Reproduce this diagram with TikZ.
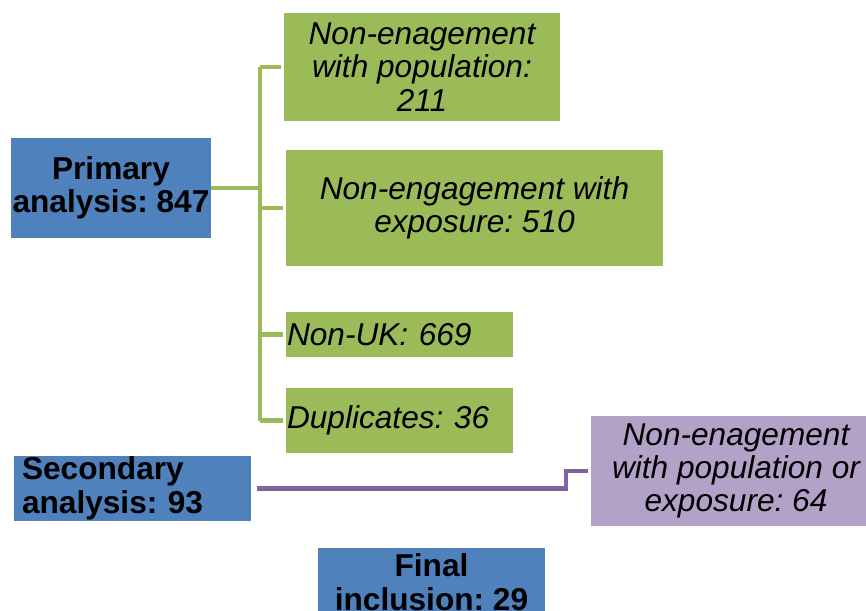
\documentclass[tikz,border=0pt]{standalone}
\usepackage{fontspec}
\setmainfont{Liberation Sans}
\usepackage{xcolor}
\usetikzlibrary{positioning, calc}
\frenchspacing
\definecolor{BoxBlue}{HTML}{4F81BD}
\definecolor{BoxGreen}{HTML}{9BBB59}
\definecolor{BoxLilac}{HTML}{B3A2C7}
\definecolor{LinePurple}{HTML}{8064A2}

\begin{document}
\begin{tikzpicture}[
    x=0.02cm, y=-0.02cm,
    box/.style={rectangle, inner sep=0pt, align=center, font=\fontsize{18pt}{19pt}\selectfont},
    stage/.style={box, fill=BoxBlue, font=\fontsize{18pt}{19pt}\selectfont\bfseries},
    excl/.style={box, fill=BoxGreen, font=\fontsize{18pt}{19pt}\selectfont\itshape},
    excl2/.style={box, fill=BoxLilac, font=\fontsize{18pt}{19pt}\selectfont\itshape},
    gline/.style={draw=BoxGreen, line width=2.4pt},
    pline/.style={draw=LinePurple, line width=2.8pt}
]
\useasboundingbox (0,0) rectangle (866,610);

% Stages
\node[stage, minimum width=4cm, minimum height=2cm] (prim) at (111,188) {Primary\\analysis: 847};
\node[stage, minimum width=4.74cm, minimum height=1.3cm, align=left, text width=4.42cm] (sec) at (132.5,488.5) {Secondary\\analysis: 93};
\node[stage, minimum width=4.54cm, minimum height=1.36cm] (final) at (431.5,582) {Final\\inclusion: 29};

% Exclusions at primary analysis
\node[excl, minimum width=5.52cm, minimum height=2.16cm] (g1) at (422,67) {Non-enagement\\with population:\\211};
\node[excl, minimum width=7.54cm, minimum height=2.32cm] (g2) at (474.5,208) {Non-engagement with\\exposure: 510};
\node[excl, minimum width=4.54cm, minimum height=0.9cm, align=left, text width=4.5cm] (g3) at (399.5,334.5) {Non-UK: 669};
\node[excl, minimum width=4.54cm, minimum height=1.3cm, align=left, text width=4.5cm] (g4) at (399.5,420.5) {Duplicates: 36};

% Exclusions at secondary analysis
\node[excl2, minimum width=5.8cm, minimum height=2.2cm] (p1) at (736,471) {Non-enagement\\with population or\\exposure: 64};

% Connectors
\coordinate (trunk) at (260,188);
\coordinate (bend) at (566,488);
\draw[gline] (prim.east) -- (prim.east -| trunk);
\draw[gline] (trunk |- g1.west) -- (trunk |- g4.west);
\foreach \g in {g1,g2,g3,g4}
    \draw[gline] (trunk |- \g.west) -- ($(\g.west)+(-3,0)$);
\draw[pline] ($(sec.east)+(6,0)$) -- (sec.east -| bend) |- ($(p1.west)+(-3,0)$);
\end{tikzpicture}
\end{document}
